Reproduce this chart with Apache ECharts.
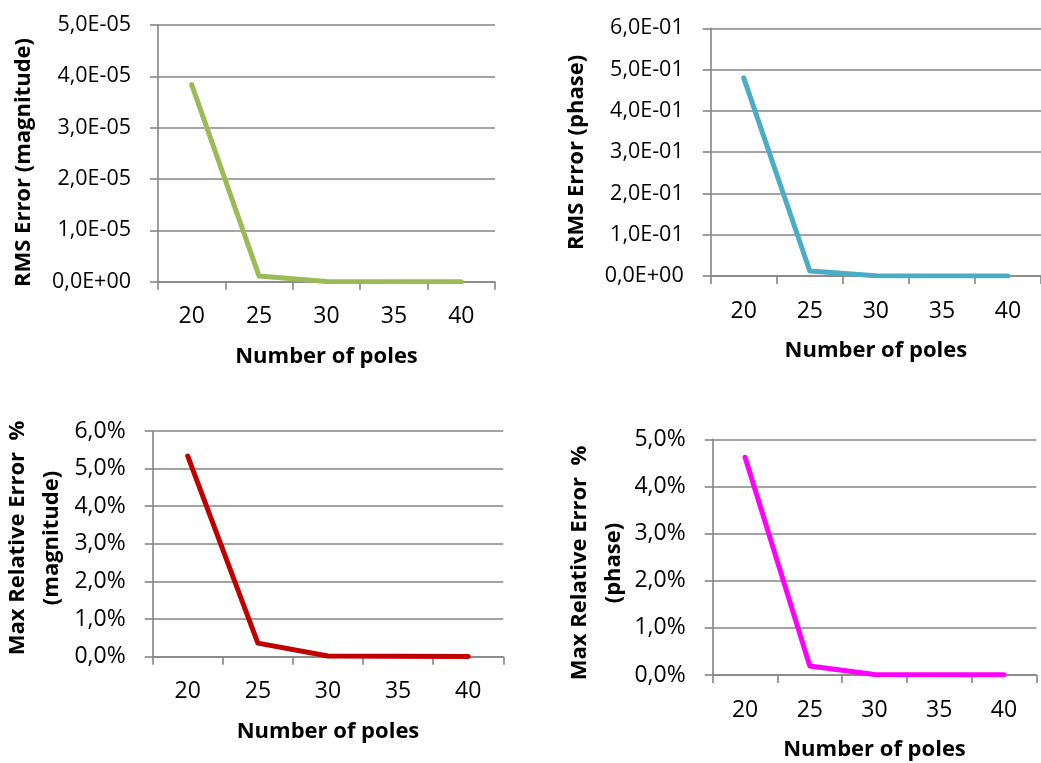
<!DOCTYPE html>
<html>
<head>
<meta charset="utf-8">
<script src="https://cdn.jsdelivr.net/npm/echarts@6/dist/echarts.min.js"></script>
<style>
  html, body { margin: 0; padding: 0; background: #fff; }
  #chart { width: 1041px; height: 763px; }
</style>
</head>
<body>
<div id="chart"></div>
<script>
// Number of poles used in the fit
const poles = ['20', '25', '30', '35', '40'];

// RMS error of the magnitude
const rmsMagnitude = [3.84e-5, 1.1e-6, 5e-8, 1e-8, 1e-8];
// RMS error of the phase
const rmsPhase = [0.48, 0.012, 0.0005, 0.0002, 0.0002];
// Max relative error of the magnitude, in percent
const maxRelMagnitude = [5.33, 0.36, 0.02, 0.01, 0.005];
// Max relative error of the phase, in percent
const maxRelPhase = [4.62, 0.19, 0.01, 0.005, 0.003];

const FONT = '"Open Sans", "Liberation Sans", sans-serif';
const GRID_GRAY = '#858585';
const TICK_FONT = 23;

// "5,0E-05" style scientific labels with a decimal comma
function sciLabel(v) {
  const s = Number(v).toExponential(1);
  const parts = s.split('e');
  const exp = parts[1];
  const sign = exp[0] === '-' ? '-' : '+';
  const digits = exp.replace(/[+-]/, '').padStart(2, '0');
  return parts[0].replace('.', ',') + 'E' + sign + digits;
}
function pctLabel(v) {
  return Number(v).toFixed(1).replace('.', ',') + '%';
}

const grids = [
  { left: 158, top: 25, width: 337, height: 256.7 },
  { left: 710.7, top: 28.3, width: 339, height: 247.7 },
  { left: 152.7, top: 431, width: 350.6, height: 225.7 },
  { left: 712.7, top: 439.3, width: 323.6, height: 235.7 }
];

function xAxis(i) {
  return {
    type: 'category',
    gridIndex: i,
    data: poles,
    boundaryGap: true,
    axisLine: { lineStyle: { color: GRID_GRAY, width: 1.6 } },
    axisTick: { show: true, length: 8, inside: false, lineStyle: { color: GRID_GRAY, width: 1.6 } },
    axisLabel: { color: '#000', fontSize: TICK_FONT, fontFamily: FONT, margin: 23.5, lineHeight: TICK_FONT },
    name: 'Number of poles',
    nameLocation: 'middle',
    nameGap: 64,
    nameTextStyle: { color: '#000', fontSize: 22, fontWeight: 'bold', fontFamily: FONT, lineHeight: 22 }
  };
}

function yAxis(i, max, interval, fmt, size) {
  return {
    type: 'value',
    gridIndex: i,
    min: 0,
    max: max,
    interval: interval,
    axisLine: { show: true, lineStyle: { color: GRID_GRAY, width: 1.6 } },
    axisTick: { show: true, length: 8, inside: false, lineStyle: { color: GRID_GRAY, width: 1.6 } },
    splitLine: { show: true, lineStyle: { color: GRID_GRAY, width: 1.6 } },
    axisLabel: { color: '#000', fontSize: size, fontFamily: FONT, margin: 27, formatter: fmt }
  };
}

function lineSeries(i, data, color) {
  return {
    type: 'line',
    xAxisIndex: i,
    yAxisIndex: i,
    data: data,
    showSymbol: false,
    symbol: 'none',
    smooth: false,
    animation: false,
    lineStyle: { color: color, width: 5, cap: 'round', join: 'round' },
    itemStyle: { color: color }
  };
}

function yTitle(x, y, text, lineHeight) {
  return {
    type: 'text',
    x: x,
    y: y,
    rotation: Math.PI / 2,
    style: {
      text: text,
      fill: '#000',
      fontSize: 22,
      fontWeight: 'bold',
      fontFamily: FONT,
      lineHeight: lineHeight,
      align: 'center',
      verticalAlign: 'middle',
      textAlign: 'center',
      textVerticalAlign: 'middle'
    }
  };
}

const chart = echarts.init(document.getElementById('chart'), null, { renderer: 'canvas' });
chart.setOption({
  backgroundColor: '#ffffff',
  animation: false,
  grid: grids,
  xAxis: [xAxis(0), xAxis(1), xAxis(2), xAxis(3)],
  yAxis: [
    yAxis(0, 5e-5, 1e-5, sciLabel, 21.5),
    yAxis(1, 0.6, 0.1, sciLabel, 21.5),
    yAxis(2, 6, 1, pctLabel, TICK_FONT),
    yAxis(3, 5, 1, pctLabel, TICK_FONT)
  ],
  series: [
    lineSeries(0, rmsMagnitude, '#9BBB59'),
    lineSeries(1, rmsPhase, '#4BACC6'),
    lineSeries(2, maxRelMagnitude, '#C00000'),
    lineSeries(3, maxRelPhase, '#FF00FF')
  ],
  graphic: [
    yTitle(24, 162.5, 'RMS Error (magnitude)', 22),
    yTitle(576.7, 152.5, 'RMS Error (phase)', 22),
    yTitle(35.2, 538, 'Max Relative Error  %\n(magnitude)', 34),
    yTitle(596.8, 563, 'Max Relative Error  %\n(phase)', 34)
  ]
});
</script>
</body>
</html>
